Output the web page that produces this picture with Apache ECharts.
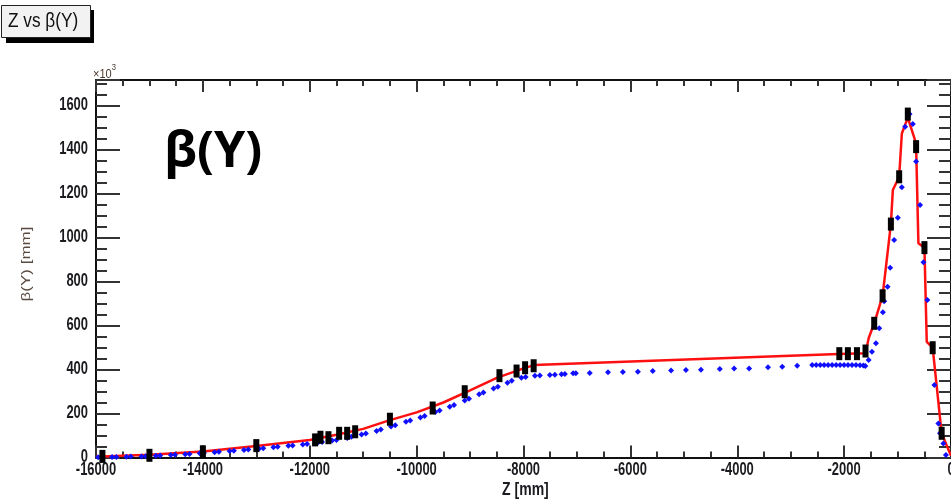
<!DOCTYPE html>
<html>
<head>
<meta charset="utf-8">
<script src="https://cdn.jsdelivr.net/npm/echarts@6/dist/echarts.min.js"></script>
<style>
  html, body { margin: 0; padding: 0; background: #ffffff; }
  #chart { width: 951px; height: 501px; }
</style>
</head>
<body>
<div id="chart"></div>
<script>
// Optics fit: beta(Y) along Z (mm), beta in units of 10^3 mm
const fitZ    = [-16000, -15000, -14000, -13000, -12000, -11500, -11000, -10500, -10000, -9500, -9000, -8500, -8000, -7800,
                 -2100, -1600, -1541, -1437, -1280, -1125, -1088, -970, -920, -808, -654, -610, -497, -454, -343, -175, 0];
const fitBeta = [3, 12, 27, 52, 80, 103, 130, 170, 205, 250, 305, 362, 405, 420,
                 470, 474, 542, 610, 735, 1061, 1216, 1276, 1473, 1545, 1428, 974, 954, 526, 499, 110, 8];

// Element positions (black markers)
const markZ    = [-15880, -15000, -14000, -13000, -11900, -11800, -11650, -11450, -11300, -11150, -10500, -9700, -9100,
                  -8450, -8130, -7970, -7810, -2090, -1930, -1760, -1600, -1437, -1280, -1125, -970, -808, -653, -497, -343, -175];
const markBeta = [5, 10, 26, 54, 80, 92, 90, 110, 110, 117, 174, 225, 299,
                  372, 393, 408, 417, 472, 472, 472, 484, 610, 735, 1061, 1276, 1561, 1413, 954, 499, 110];

// Tracked beta(Y) samples (blue points)
const trackZ = [-15960, -15880, -15700, -15620, -15430, -15350, -15150, -15070, -14880, -14800, -14600, -14520,
                -14330, -14250, -14060, -13980, -13780, -13700, -13500, -13420, -13230, -13150, -12950, -12870,
                -12680, -12600, -12400, -12320, -12130, -12050, -11850, -11770, -11580, -11500, -11300, -11220,
                -11030, -10950, -10750, -10670, -10480, -10400, -10200, -10120, -9930, -9850, -9650, -9570,
                -9380, -9300, -9100, -9020, -8830, -8750, -8560, -8480, -8300, -8220, -8040, -7960,
                -7786, -7693, -7506, -7413, -7289, -7226, -7071, -7021, -6760, -6419, -6140, -5860,
                -5581, -5239, -4960, -4680, -4326, -4058, -3778, -3424, -3158, -2878,
                -2598, -2523, -2448, -2374, -2300, -2225, -2150, -2076, -2001, -1927, -1852, -1778, -1703, -1640, -1604,
                -1541, -1479, -1405, -1343, -1275, -1250, -1187, -1138, -1064, -995, -920, -858, -776, -715,
                -653, -579, -516, -442, -311, -236, -206, -143, -95];
const trackBeta = [1, 1, 2, 2, 3, 4, 5, 6, 8, 9, 11, 12,
                   15, 16, 19, 21, 24, 26, 29, 31, 34, 36, 40, 42,
                   47, 49, 53, 55, 59, 61, 67, 70, 77, 80, 89, 94,
                   104, 109, 121, 127, 141, 147, 162, 168, 182, 189, 207, 214,
                   231, 239, 259, 267, 287, 295, 314, 322, 340, 349, 362, 366,
                   372, 373, 375, 376, 378, 379, 383, 383, 384, 387, 389, 390,
                   393, 395, 398, 399, 402, 404, 405, 410, 413, 417,
                   420, 420, 420, 420, 420, 420, 420, 420, 420, 420, 420, 420, 419, 418, 416,
                   443, 481, 519, 587, 660, 710, 776, 863, 989, 1090, 1228, 1504, 1561, 1516,
                   1345, 1148, 887, 716, 330, 155, 110, 64, 11];

// Tick labels
const zTicks = [-16000, -14000, -12000, -10000, -8000, -6000, -4000, -2000, 0];
const betaTicks = [0, 200, 400, 600, 800, 1000, 1200, 1400, 1600];

const pairs = (xs, ys) => xs.map((x, i) => [x, ys[i]]);

const textFont = '"Liberation Sans", Arial, Helvetica, sans-serif';
const inkColor = '#1a1a1f';
const axisBlack = '#111111';
const tickGray = '#333333';
const narrow = 0.72;   // horizontal squeeze of the typeface

const chart = echarts.init(document.getElementById('chart'), null, { renderer: 'canvas' });

const frameAxis = (pos) => ({
  type: 'value', position: pos, min: -16000, max: 0, interval: 2000,
  axisLine: { show: true, onZero: false, lineStyle: { color: axisBlack, width: 2 } },
  axisTick: { show: true, inside: true, length: 12, lineStyle: { color: tickGray, width: 2 } },
  minorTick: { show: true, splitNumber: 4, length: 6, lineStyle: { color: tickGray, width: 2 } },
  splitLine: { show: false },
  axisLabel: { show: false }
});
const betaAxis = (pos, minorLen) => ({
  type: 'value', position: pos, min: 0, max: 1716, interval: 200,
  axisLine: { show: true, onZero: false, lineStyle: { color: axisBlack, width: 2 } },
  axisTick: { show: true, inside: true, length: 24, lineStyle: { color: tickGray, width: 2 } },
  minorTick: { show: true, splitNumber: 4, length: minorLen, lineStyle: { color: tickGray, width: 2 } },
  splitLine: { show: false },
  axisLabel: { show: false }
});

chart.setOption({
  animation: false,
  backgroundColor: '#ffffff',
  grid: { left: 96, top: 80, right: -2, bottom: 43.5 },
  xAxis: [frameAxis('bottom'), frameAxis('top')],
  yAxis: [betaAxis('left', 11), betaAxis('right', 12)],
  series: [
    {
      name: 'fit', type: 'line', xAxisIndex: 0, yAxisIndex: 0,
      data: pairs(fitZ, fitBeta), showSymbol: false, symbol: 'none',
      lineStyle: { color: '#ff1010', width: 2.5 }, z: 2, clip: false
    },
    {
      name: 'track', type: 'scatter', xAxisIndex: 0, yAxisIndex: 0,
      data: pairs(trackZ, trackBeta), symbol: 'diamond', symbolSize: 6,
      itemStyle: { color: '#1010ff', opacity: 1 }, z: 3, clip: false
    },
    {
      name: 'elements', type: 'scatter', xAxisIndex: 0, yAxisIndex: 0,
      data: pairs(markZ, markBeta), symbol: 'rect', symbolSize: [6, 13],
      itemStyle: { color: '#000000', opacity: 1 }, z: 4, clip: false
    }
  ]
});

// Tick labels placed at the axis positions, drawn with a narrowed face
const labelEls = [];
zTicks.forEach(v => {
  const p = chart.convertToPixel({ xAxisIndex: 0, yAxisIndex: 0 }, [v, 0]);
  labelEls.push({
    type: 'text', x: p[0], y: p[1] + 4, scaleX: narrow,
    style: { text: String(v), fill: inkColor, font: 'bold 18px ' + textFont, align: 'center', verticalAlign: 'top' }
  });
});
betaTicks.forEach(v => {
  const p = chart.convertToPixel({ xAxisIndex: 0, yAxisIndex: 0 }, [-16000, v]);
  labelEls.push({
    type: 'text', x: p[0] - 8, y: p[1], scaleX: narrow,
    style: { text: String(v), fill: inkColor, font: 'bold 18px ' + textFont, align: 'right', verticalAlign: 'middle' }
  });
});

chart.setOption({
  graphic: { elements: [
    // title box with drop shadow
    { type: 'rect', left: 6, top: 10, shape: { width: 88, height: 33 }, style: { fill: '#000000' }, silent: true },
    { type: 'rect', left: 1, top: 5, shape: { width: 89, height: 32 },
      style: { fill: '#f2f2f2', stroke: '#222222', lineWidth: 1 }, silent: true },
    { type: 'text', x: 8, y: 21, scaleX: 0.82,
      style: { text: 'Z vs β(Y)', fill: '#111111', font: '21px ' + textFont, verticalAlign: 'middle' } },
    // scale factor
    { type: 'text', x: 93, y: 63, scaleX: 0.85,
      style: { text: '{a|×10}{b|3}', rich: {
        a: { fill: '#4a3a30', fontSize: 13, fontFamily: textFont, padding: [5, 0, 0, 0] },
        b: { fill: '#4a3a30', fontSize: 9, fontFamily: textFont, verticalAlign: 'top' } } } },
    // axis titles
    { type: 'text', x: 27, y: 264, rotation: Math.PI / 2, scaleY: narrow,
      style: { text: 'β(Y) [mm]', fill: '#5a4a40', font: '17px ' + textFont,
               align: 'center', verticalAlign: 'middle' } },
    { type: 'text', x: 502, y: 490, scaleX: 0.78,
      style: { text: 'Z [mm]', fill: inkColor, font: 'bold 18px ' + textFont, verticalAlign: 'middle' } },
    // large in-plot heading
    { type: 'text', left: 164, top: 128,
      style: { text: 'β(Y)', fill: '#000000', font: 'bold 50px "Open Sans", "DejaVu Sans", sans-serif' } },
    ...labelEls
  ] }
});
</script>
</body>
</html>
